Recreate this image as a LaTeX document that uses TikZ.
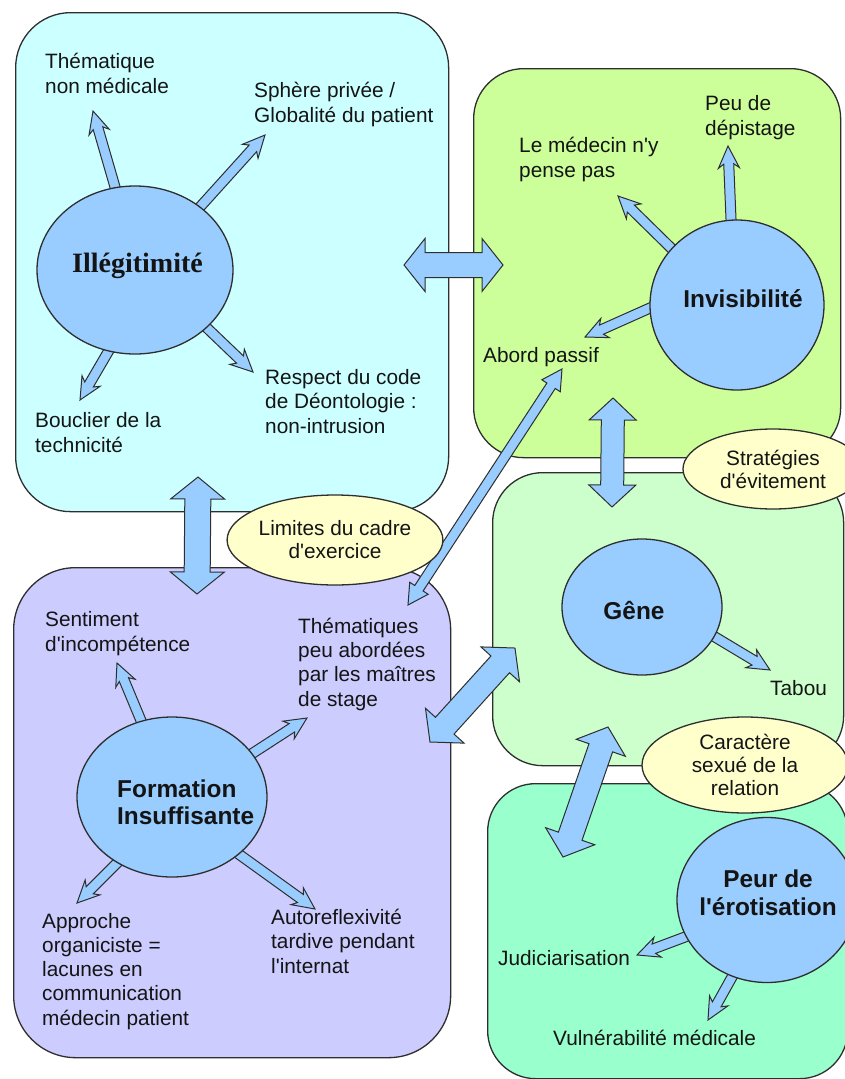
\documentclass[tikz,border=0pt]{standalone}
\usepackage{fontspec}
\newfontfamily\labfont{Liberation Sans}
\newfontfamily\serifbold{Liberation Serif}
\usetikzlibrary{shapes.geometric}
\definecolor{cyanbox}{HTML}{CCFFFF}
\definecolor{greenbox}{HTML}{CCFF99}
\definecolor{genebox}{HTML}{CCFFCC}
\definecolor{peurbox}{HTML}{99FFCC}
\definecolor{purplebox}{HTML}{CCCCFF}
\definecolor{blueell}{HTML}{99CCFF}
\definecolor{yellowell}{HTML}{FFFFCC}
\definecolor{outl}{HTML}{2E2E2E}
\definecolor{txt}{HTML}{141414}

\tikzset{
  box/.style={draw=outl, line width=1.3pt, anchor=north west, inner sep=0pt},
  mainell/.style={ellipse, draw=outl, line width=1.3pt, fill=blueell, inner sep=0pt},
  noteell/.style={ellipse, draw=outl, line width=1.3pt, fill=yellowell, inner sep=0pt,
    align=center, text=txt, font=\labfont\fontsize{20.8}{23}\selectfont},
  maintxt/.style={inner sep=0pt, text=txt, font=\labfont\bfseries\fontsize{24.4}{27}\selectfont},
  lbl/.style={anchor=base west, inner sep=0pt, align=left, text=txt,
    font=\labfont\fontsize{20.8}{24.2}\selectfont},
  arr/.style={draw=outl, line width=1pt, fill=blueell, line join=miter},
}

\newcommand\arrvec[2]{%
  \path (#1); \pgfgetlastxy{\arax}{\aray}%
  \path (#2); \pgfgetlastxy{\arbx}{\arby}%
  \pgfmathsetmacro\arlen{veclen(\arbx-\arax,\arby-\aray)}%
  \pgfmathsetmacro\arang{atan2(\arby-\aray,\arbx-\arax)}%
}
% single-headed thin arrow with slightly swept-back barbs:
% from, to, shaft half width, head half width, head length
\newcommand\onearr[5]{%
  \arrvec{#1}{#2}%
  \pgfmathsetmacro\arhb{\arlen-#5}%
  \pgfmathsetmacro\arhn{\arlen-#5+4}%
  \draw[arr, shift={(\arax,\aray)}, rotate=\arang, x=1pt, y=1pt]
    (-12,-#3) -- (\arhn,-#3) -- (\arhb,-#4) -- (\arlen,0) -- (\arhb,#4) -- (\arhn,#3) -- (-12,#3) -- cycle;
}
% double-headed block arrow
\newcommand\twoarr[5]{%
  \arrvec{#1}{#2}%
  \pgfmathsetmacro\arhb{\arlen-#5}%
  \draw[arr, shift={(\arax,\aray)}, rotate=\arang, x=1pt, y=1pt]
    (#5,-#3) -- (\arhb,-#3) -- (\arhb,-#4) -- (\arlen,0) -- (\arhb,#4) -- (\arhb,#3)
    -- (#5,#3) -- (#5,#4) -- (0,0) -- (#5,-#4) -- cycle;
}

\begin{document}
\begin{tikzpicture}[x=1pt,y=-1pt]
\useasboundingbox (0,0) rectangle (845,1079);
\fill[white] (0,0) rectangle (845,1079);

% ---------- boxes ----------
\node[box, fill=cyanbox,   rounded corners=55pt, minimum width=433pt, minimum height=499pt] (boxill)  at (15,12)  {};
\node[box, fill=greenbox,  rounded corners=50pt, minimum width=367pt, minimum height=389pt] (boxinv)  at (473,68) {};
\node[box, fill=genebox,   rounded corners=50pt, minimum width=351pt, minimum height=293pt] (boxgene) at (492,472) {};
\node[box, fill=peurbox,   rounded corners=48pt, minimum width=360pt, minimum height=295pt] (boxpeur) at (487,783) {};
\node[box, fill=purplebox, rounded corners=62pt, minimum width=437pt, minimum height=490pt] (boxform) at (13,567) {};

% ---------- arrow end points ----------
\coordinate (ib1) at (115,187); \coordinate (it1) at (93,111);
\coordinate (ib2) at (200,207); \coordinate (it2) at (265,135);
\coordinate (ib3) at (207,328); \coordinate (it3) at (253,372);
\coordinate (ib4) at (108,352); \coordinate (it4) at (80,400);
\coordinate (vb1) at (731,219); \coordinate (vt1) at (728,146);
\coordinate (vb2) at (670,247); \coordinate (vt2) at (618,196);
\coordinate (vb3) at (650,308); \coordinate (vt3) at (585,337);
\coordinate (fb1) at (142,723); \coordinate (ft1) at (117,663);
\coordinate (fb2) at (253,753); \coordinate (ft2) at (307,718);
\coordinate (fb3) at (117,863); \coordinate (ft3) at (77,903);
\coordinate (fb4) at (240,855); \coordinate (ft4) at (315,909);
\coordinate (gb1) at (715,637); \coordinate (gt1) at (770,670);
\coordinate (pb1) at (685,937); \coordinate (pt1) at (637,955);
\coordinate (pb2) at (732,977); \coordinate (pt2) at (708,1020);

\coordinate (h1a) at (404,265); \coordinate (h1b) at (503,265);
\coordinate (v1a) at (198,477); \coordinate (v1b) at (197,594);
\coordinate (v2a) at (613,398); \coordinate (v2b) at (612,507);
\coordinate (d1a) at (430,742); \coordinate (d1b) at (515,648);
\coordinate (d2a) at (608,727); \coordinate (d2b) at (563,857);
\coordinate (lga) at (408,605); \coordinate (lgb) at (562,369);

% ---------- small arrows (under ellipses) ----------
\onearr{ib1}{it1}{5}{10.5}{22}
\onearr{ib2}{it2}{5}{10.5}{22}
\onearr{ib3}{it3}{5}{10.5}{22}
\onearr{ib4}{it4}{5}{10.5}{22}
\onearr{vb1}{vt1}{5}{10.5}{22}
\onearr{vb2}{vt2}{5}{10.5}{22}
\onearr{vb3}{vt3}{5}{10.5}{22}
\onearr{fb1}{ft1}{5}{10.5}{22}
\onearr{fb2}{ft2}{5}{10.5}{22}
\onearr{fb3}{ft3}{5}{10.5}{22}
\onearr{fb4}{ft4}{5}{10.5}{22}
\onearr{gb1}{gt1}{5}{10.5}{22}
\onearr{pb1}{pt1}{5}{10.5}{22}
\onearr{pb2}{pt2}{5}{10.5}{22}

% ---------- main ellipses ----------
\node[mainell, minimum width=196pt, minimum height=168pt] (ill)  at (135,270) {};
\node[mainell, minimum width=174pt, minimum height=170pt] (inv)  at (737,305) {};
\node[mainell, minimum width=190pt, minimum height=160pt] (form) at (172,797) {};
\node[mainell, minimum width=160pt, minimum height=136pt] (gene) at (642,607) {};
\node[mainell, minimum width=180pt, minimum height=165pt] (peur) at (767,900) {};

\node[inner sep=0pt, anchor=base, text=txt, font=\serifbold\bfseries\fontsize{28}{30}\selectfont] (illtxt) at (137.5,272) {Illégitimité};
\node[maintxt, anchor=base] (invtxt) at (743,307) {Invisibilité};
\node[maintxt, anchor=base west, align=left] (formtxt) at (117,824) {Formation\\Insuffisante};
\node[maintxt, anchor=base] (genetxt) at (634,619) {Gêne};
\node[maintxt, anchor=base, align=center, font=\labfont\bfseries\fontsize{24.4}{28}\selectfont] (peurtxt) at (768,915) {Peur de\\l'érotisation};

% ---------- big arrows ----------
\twoarr{h1a}{h1b}{12.5}{26.5}{21}
\twoarr{v1a}{v1b}{13}{27}{22}
\twoarr{v2a}{v2b}{11.5}{23.5}{22}
\twoarr{d1a}{d1b}{12.5}{26}{22}
\twoarr{d2a}{d2b}{12.5}{26}{22}
\twoarr{lga}{lgb}{5}{11}{20}

% ---------- yellow ellipses ----------
\node[noteell, minimum width=184pt, minimum height=90pt] (limites) at (335,540) {Limites du cadre\\d'exercice};
\node[noteell, minimum width=180pt, minimum height=80pt] (strat) at (773,469) {Stratégies\\d'évitement};
\node[noteell, minimum width=206pt, minimum height=96pt] (carac) at (745,765) {Caractère\\sexué de la\\relation};

% ---------- labels (anchored at the baseline of their last line) ----------
\node[lbl] (l1) at (45,93) {Thématique\\non médicale};
\node[lbl] (l2) at (254,122) {Sphère privée /\\Globalité du patient};
\node[lbl] (l3) at (35,452) {Bouclier de la\\technicité};
\node[lbl] (l4) at (265,433) {Respect du code\\de Déontologie :\\non-intrusion};
\node[lbl] (l5) at (705,135) {Peu de\\dépistage};
\node[lbl] (l6) at (519,177) {Le médecin n'y\\pense pas};
\node[lbl] (l7) at (483,362) {Abord passif};
\node[lbl] (l8) at (45,651) {Sentiment\\d'incompétence};
\node[lbl] (l9) at (298,706) {Thématiques\\peu abordées\\par les maîtres\\de stage};
\node[lbl] (l10) at (42,1025) {Approche\\organiciste =\\lacunes en\\communication\\médecin patient};
\node[lbl] (l11) at (271,973) {Autoreflexivité\\tardive pendant\\l'internat};
\node[lbl] (l12) at (770,695) {Tabou};
\node[lbl] (l13) at (498,965) {Judiciarisation};
\node[lbl] (l14) at (553,1045) {Vulnérabilité médicale};
\end{tikzpicture}
\end{document}
